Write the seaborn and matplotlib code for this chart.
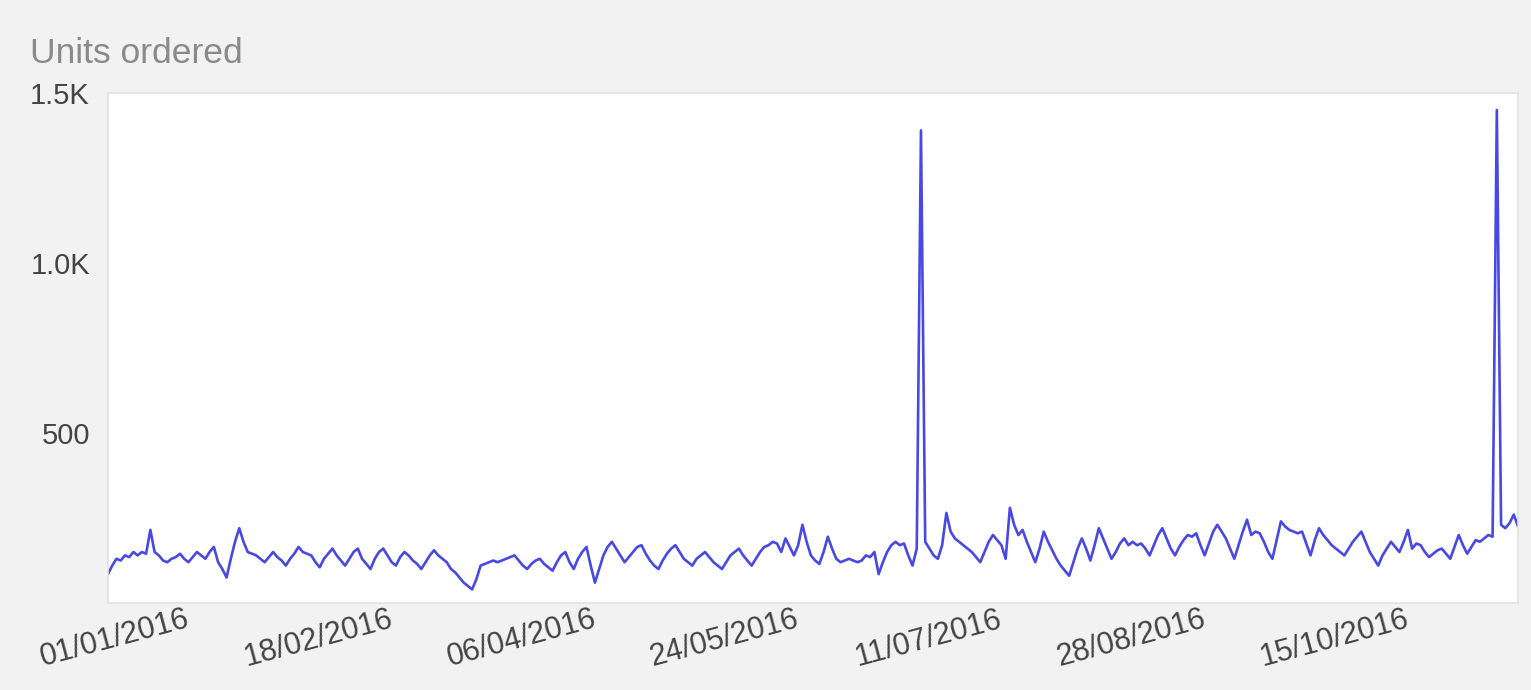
import matplotlib
matplotlib.use("Agg")
import matplotlib.pyplot as plt
import matplotlib.transforms as mtransforms
import seaborn as sns
import pandas as pd

# ---------------- data ----------------
title = "Units ordered"
start_date = "2016-01-01"
units = [
    85, 110, 130, 125, 140, 135, 150, 140, 150, 145,
    215, 150, 140, 125, 120, 130, 135, 145, 130, 120,
    135, 150, 140, 130, 150, 165, 120, 100, 75, 130,
    180, 220, 180, 150, 145, 140, 130, 120, 135, 150,
    135, 125, 110, 130, 145, 165, 150, 145, 140, 120,
    105, 130, 145, 160, 140, 125, 110, 130, 150, 160,
    130, 115, 100, 130, 150, 160, 140, 120, 110, 135,
    150, 140, 125, 115, 100, 120, 140, 155, 140, 130,
    120, 100, 90, 75, 60, 50, 40, 70, 110, 115,
    120, 125, 120, 125, 130, 135, 140, 125, 110, 100,
    115, 125, 130, 115, 105, 95, 120, 140, 150, 120,
    100, 130, 150, 165, 110, 60, 100, 140, 165, 180,
    160, 140, 120, 135, 150, 165, 170, 145, 125, 110,
    100, 125, 145, 160, 170, 150, 130, 120, 110, 130,
    140, 150, 135, 120, 110, 100, 120, 140, 150, 160,
    140, 125, 110, 130, 150, 165, 170, 180, 175, 150,
    190, 165, 140, 170, 230, 180, 140, 125, 115, 150,
    195, 160, 130, 120, 125, 130, 125, 120, 125, 140,
    135, 150, 85, 120, 150, 170, 180, 170, 175, 140,
    110, 160, 1390, 180, 160, 140, 130, 170, 265, 210,
    190, 180, 170, 160, 150, 135, 120, 150, 180, 200,
    185, 170, 130, 280, 230, 200, 215, 180, 150, 120,
    160, 210, 180, 155, 130, 110, 95, 80, 120, 160,
    190, 160, 125, 170, 220, 190, 160, 130, 150, 175,
    190, 170, 180, 170, 175, 160, 140, 170, 200, 220,
    190, 160, 140, 165, 185, 200, 195, 205, 170, 140,
    175, 210, 230, 210, 190, 160, 130, 170, 210, 245,
    200, 210, 205, 180, 150, 130, 185, 240, 225, 215,
    210, 205, 210, 175, 140, 185, 220, 200, 185, 170,
    160, 150, 140, 160, 180, 195, 210, 180, 150, 130,
    110, 140, 160, 180, 165, 150, 180, 215, 160, 175,
    170, 150, 135, 145, 155, 160, 145, 130, 165, 200,
    170, 145, 165, 185, 180, 190, 200, 195, 1450, 230,
    220, 235, 260, 225,
]
x_tick_labels = ["01/01/2016", "18/02/2016", "06/04/2016", "24/05/2016",
                 "11/07/2016", "28/08/2016", "15/10/2016"]
y_tick_values = [500, 1000, 1500]
y_tick_labels = ["500", "1.0K", "1.5K"]

# ---------------- style ----------------
sns.set_theme(style="white")
plt.rcParams["font.family"] = ["Liberation Sans", "DejaVu Sans"]

W, H = 1531, 690
fig = plt.figure(figsize=(W / 100, H / 100), dpi=100, facecolor="#f2f2f2")
ax = fig.add_axes([108 / W, 1 - 603 / H, (1518 - 108) / W, (603 - 93) / H])
ax.set_facecolor("white")

df = pd.DataFrame({
    "date": pd.date_range(start_date, periods=len(units), freq="D"),
    "units": units,
})
sns.lineplot(data=df, x="date", y="units", ax=ax, color="#4848e4", linewidth=1.9)

ax.set_xlim(df["date"].iloc[0], df["date"].iloc[-1])
ax.set_ylim(0, 1500)

tick_dates = pd.to_datetime(x_tick_labels, format="%d/%m/%Y")
ax.set_xticks(tick_dates)
ax.set_xticklabels(x_tick_labels, rotation=15, ha="center", fontsize=22, color="#444444")
ax.set_yticks(y_tick_values)
ax.set_yticklabels(y_tick_labels, fontsize=21, color="#444444")
ax.tick_params(axis="both", length=0)
ax.tick_params(axis="x", pad=4)
ax.tick_params(axis="y", pad=13)
ax.set_xlabel("")
ax.set_ylabel("")
ax.grid(False)
for s in ax.spines.values():
    s.set_color("#e2e2e2")
    s.set_linewidth(1.2)

# nudge the rotated date labels slightly right/up, as in the reference
offset = mtransforms.ScaledTranslation(7 / 100, 4 / 100, fig.dpi_scale_trans)
for lbl in ax.get_xticklabels():
    lbl.set_transform(lbl.get_transform() + offset)

fig.text(30 / W, 1 - 63 / H, title, fontsize=25.5, color="#8a8a8a", va="baseline", ha="left")

fig.savefig("out.png", dpi=100, facecolor=fig.get_facecolor())
